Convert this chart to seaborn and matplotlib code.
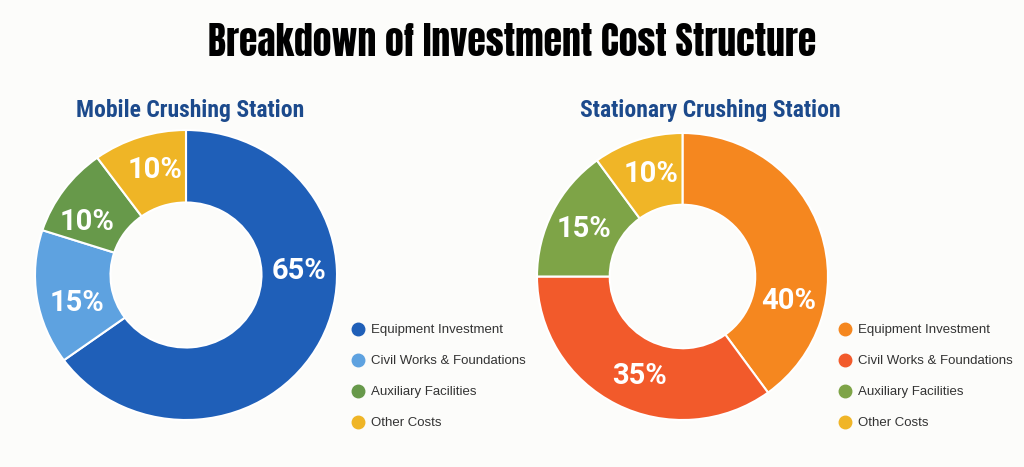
import matplotlib
matplotlib.use('Agg')
import matplotlib.pyplot as plt
from matplotlib.lines import Line2D
import numpy as np
import seaborn as sns

# data
categories = ['Equipment Investment', 'Civil Works & Foundations',
              'Auxiliary Facilities', 'Other Costs']
mobile_values = [65, 15, 10, 10]
stationary_values = [40, 35, 15, 10]
mobile_colors = ['#1f5fb8', '#5ea2e0', '#67994a', '#efb526']
stationary_colors = ['#f5871f', '#f25a2b', '#7ea447', '#f0b527']

sns.set_theme(style='white')
plt.rcParams['font.family'] = ['Liberation Sans', 'DejaVu Sans']

bg = '#fcfcfa'
fig = plt.figure(figsize=(10.24, 4.67), dpi=100, facecolor=bg)

fig.text(0.5, 1 - 42 / 467, 'Breakdown of Investment Cost Structure',
         ha='center', va='center', fontsize=27,
         family=['Anton', 'Liberation Sans', 'DejaVu Sans'], color='black')


def donut(rect, values, colors, title, title_x, label_shift, leg_x):
    ax = fig.add_axes(rect)
    ax.set_facecolor(bg)
    wedges, _ = ax.pie(values, colors=colors, startangle=90, counterclock=False,
                       radius=1.0, wedgeprops=dict(width=0.5, edgecolor='white',
                                                   linewidth=1.5))
    ax.set_aspect('auto')
    ax.set_xlim(-1, 1)
    ax.set_ylim(-1, 1)
    for i, w in enumerate(wedges):
        ang = (w.theta1 + w.theta2) / 2 + label_shift[i]
        r = 0.75
        ax.text(r * np.cos(np.radians(ang)), r * np.sin(np.radians(ang)),
                f'{values[i]}%', ha='center', va='center', color='white',
                fontsize=21, fontweight='bold', family=['Roboto', 'DejaVu Sans'])
    fig.text(title_x / 1024, 1 - 111 / 467, title, ha='center', va='center',
             fontsize=17, fontweight='bold', color='#1c4a8c',
             family=['Roboto Condensed', 'Archivo Narrow', 'Liberation Sans'])
    handles = [Line2D([0], [0], marker='o', linestyle='', markersize=9,
                      markerfacecolor=c, markeredgecolor=c) for c in colors]
    fig.legend(handles, categories, loc='upper left',
               bbox_to_anchor=(leg_x / 1024, 1 - 324 / 467), frameon=False,
               fontsize=9.5, labelspacing=1.42, handlelength=0.8,
               handletextpad=0.6, borderpad=0, borderaxespad=0,
               labelcolor='#333333')


donut([35 / 1024, 47 / 467, 302 / 1024, 290 / 467], mobile_values, mobile_colors,
      'Mobile Crushing Station', 190, [29, 6, 7, -2], 353)
donut([537 / 1024, 47 / 467, 291 / 1024, 287 / 467], stationary_values,
      stationary_colors, 'Stationary Crushing Station', 710, [-31, 4, 1, -1], 840)

fig.savefig('out.png', dpi=100, facecolor=bg)
